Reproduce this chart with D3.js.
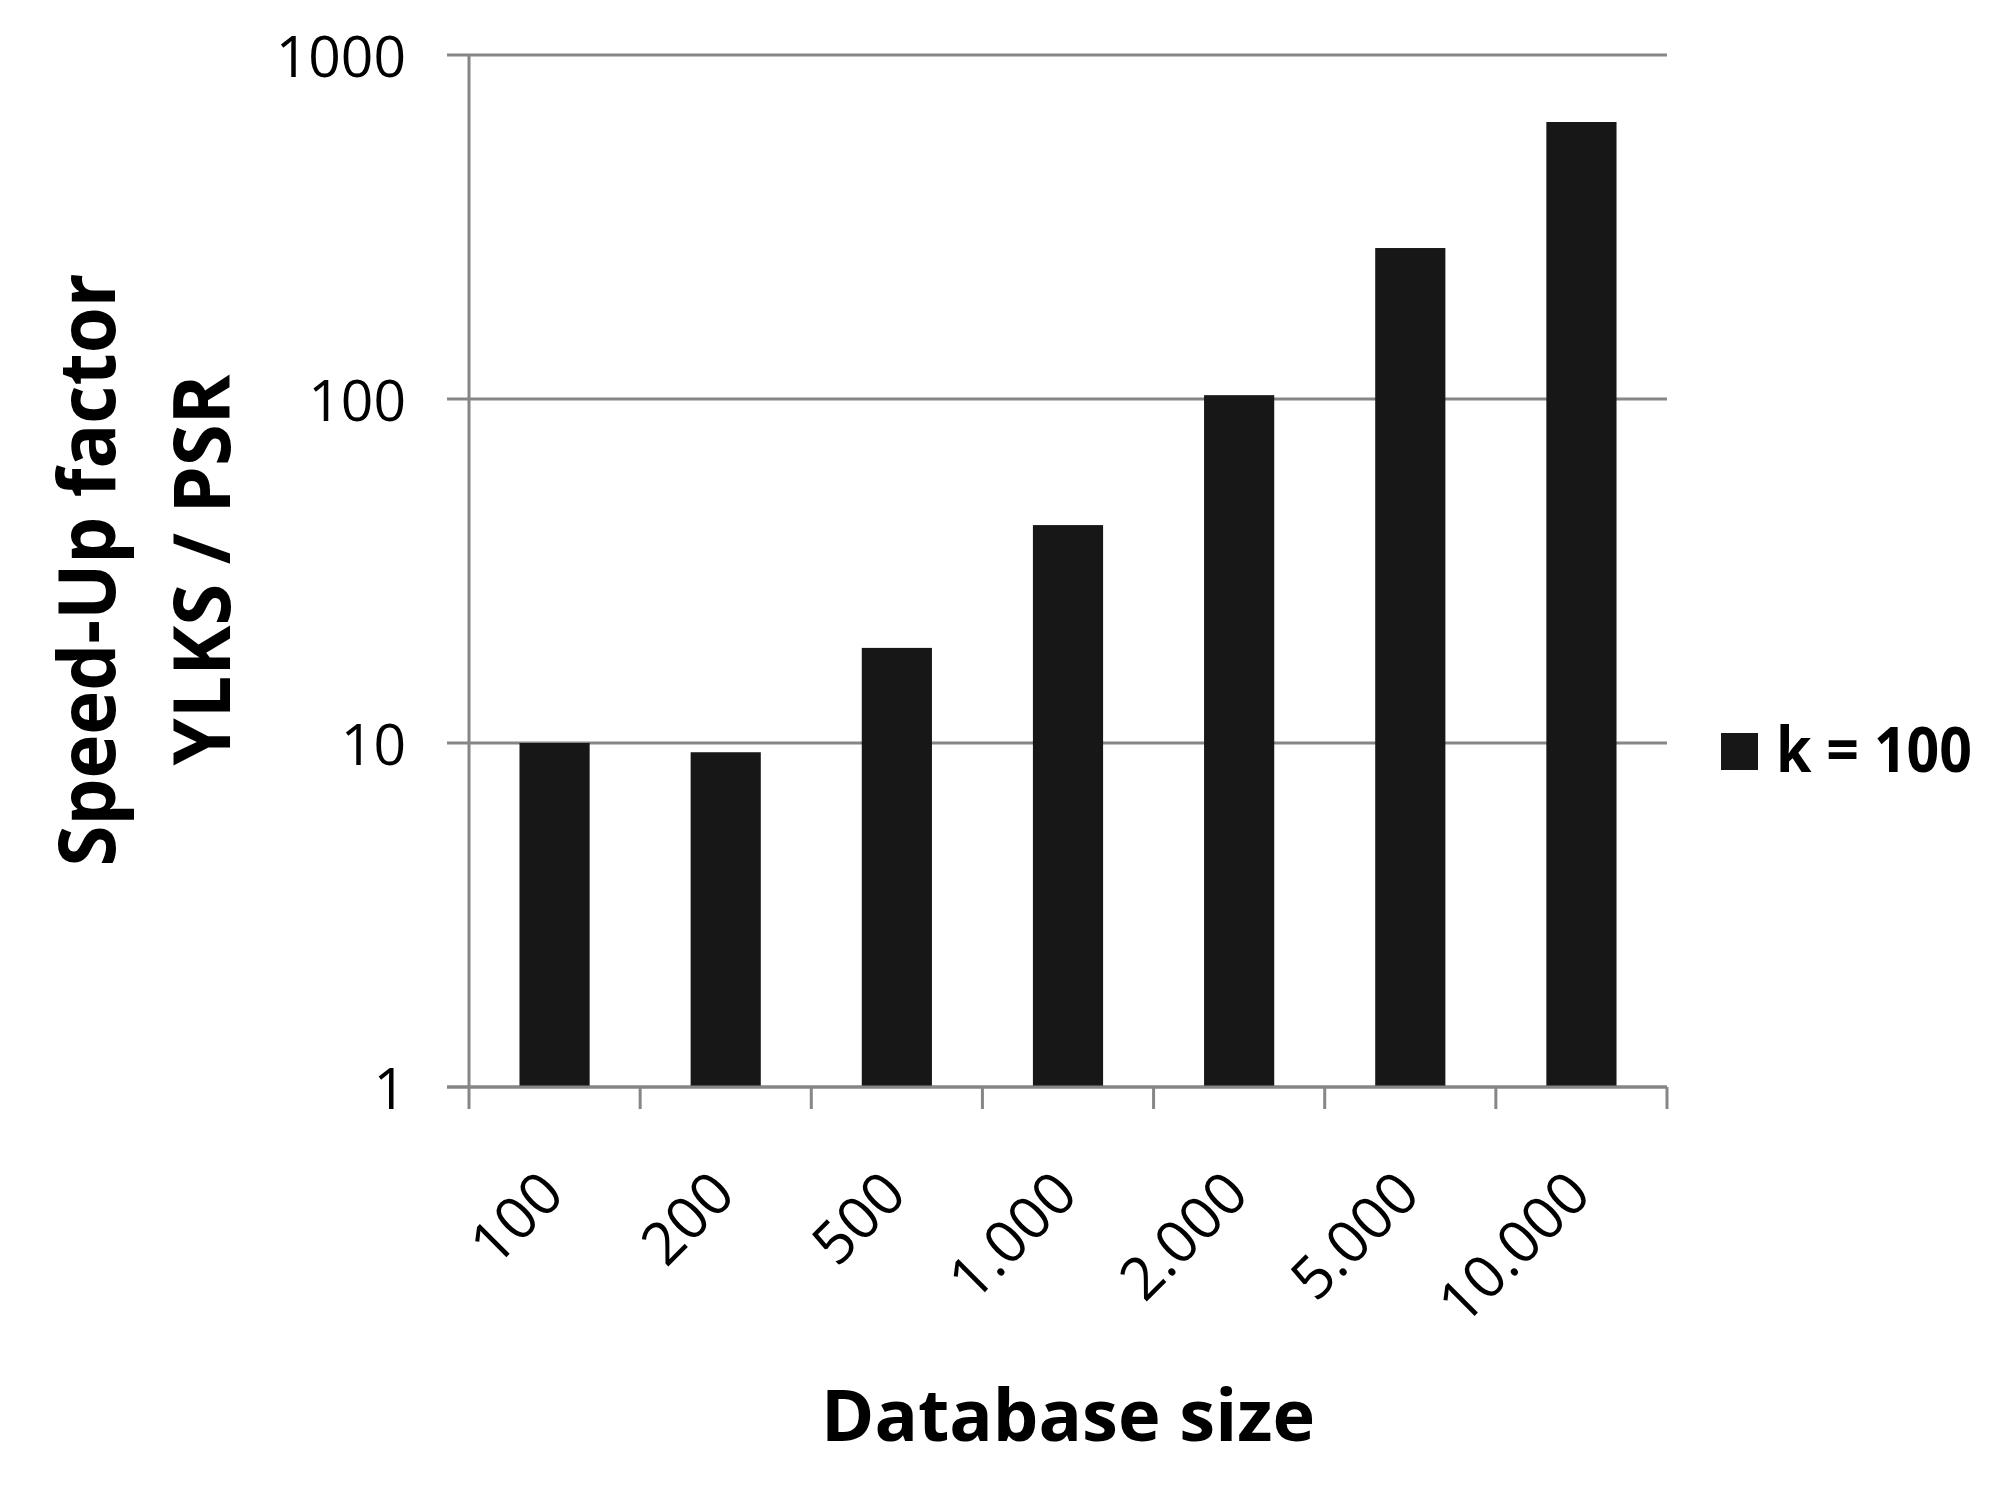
<!DOCTYPE html>
<html>
<head>
<meta charset="utf-8">
<script src="https://cdn.jsdelivr.net/npm/d3@7"></script>
<style>
html, body { margin: 0; padding: 0; background: #fff; }
svg { display: block; }
</style>
</head>
<body>
<script>
const categories = ["100", "200", "500", "1.000", "2.000", "5.000", "10.000"];
const speedUp = [10.0, 9.4, 18.9, 43.0, 102.6, 274.7, 638.6];
const yTicks = [1, 10, 100, 1000];
const yTickLabels = ["1", "10", "100", "1000"];
const seriesName = "k = 100";
const xTitle = "Database size";
const yTitleLines = ["Speed-Up factor", "YLKS / PSR"];

(function () {
const W = 2000, H = 1502;
const pLeft = 469, pRight = 1667, pTop = 55, pBottom = 1087;
const gridColor = "#868686";
const barColor = "#171717";
const font = "'Open Sans', 'Noto Sans', 'Liberation Sans', sans-serif";

const svg = d3.select("body").append("svg")
  .attr("width", W).attr("height", H)
  .style("font-family", font);

const x = d3.scaleBand().domain(categories).range([pLeft, pRight])
  .paddingInner(0.59).paddingOuter(0.295);
const y = d3.scaleLog().domain([1, 1000]).range([pBottom, pTop]);

// gridlines (with left tick extension)
svg.append("g").selectAll("line").data(yTicks).join("line")
  .attr("x1", pLeft - 22).attr("x2", pRight)
  .attr("y1", d => y(d)).attr("y2", d => y(d))
  .attr("stroke", gridColor).attr("stroke-width", 3);

// y tick labels
svg.append("g").selectAll("text").data(yTicks).join("text")
  .attr("x", 406).attr("y", d => y(d))
  .attr("text-anchor", "end").attr("dominant-baseline", "central")
  .attr("font-size", 57).attr("fill", "#000")
  .text((d, i) => yTickLabels[i]);

// bars
svg.append("g").selectAll("rect").data(speedUp).join("rect")
  .attr("x", (d, i) => x(categories[i]))
  .attr("width", x.bandwidth())
  .attr("y", d => y(d))
  .attr("height", d => y(1) - y(d))
  .attr("fill", barColor);

// y axis line
svg.append("line").attr("x1", pLeft).attr("x2", pLeft)
  .attr("y1", pTop).attr("y2", pBottom)
  .attr("stroke", gridColor).attr("stroke-width", 3);

// x axis line
svg.append("line").attr("x1", pLeft - 22).attr("x2", pRight)
  .attr("y1", pBottom).attr("y2", pBottom)
  .attr("stroke", gridColor).attr("stroke-width", 3);

// x tick marks at category boundaries
const step = x.step();
const boundaries = d3.range(categories.length + 1).map(i => pLeft + i * step);
svg.append("g").selectAll("line").data(boundaries).join("line")
  .attr("x1", d => d).attr("x2", d => d)
  .attr("y1", pBottom).attr("y2", pBottom + 22)
  .attr("stroke", gridColor).attr("stroke-width", 3);

// x tick labels, rotated
svg.append("g").selectAll("text").data(categories).join("text")
  .attr("transform", d => `translate(${x(d) + x.bandwidth() / 2 + 12},${1197}) rotate(-45)`)
  .attr("text-anchor", "end")
  .attr("font-size", 59).attr("fill", "#000")
  .text(d => d);

// x title
svg.append("text")
  .attr("x", (pLeft + pRight) / 2).attr("y", 1441)
  .attr("text-anchor", "middle")
  .attr("font-size", 72).attr("font-weight", "bold").attr("fill", "#000")
  .attr("textLength", 494).attr("lengthAdjust", "spacingAndGlyphs")
  .text(xTitle);

// y title (two lines)
const yt = [
  { text: yTitleLines[0], bx: 115, cy: 570, len: 593 },
  { text: yTitleLines[1], bx: 230, cy: 570, len: 391 }
];
svg.append("g").selectAll("text").data(yt).join("text")
  .attr("transform", d => `translate(${d.bx},${d.cy}) rotate(-90)`)
  .attr("text-anchor", "middle")
  .attr("font-size", 78).attr("font-weight", "bold").attr("fill", "#000")
  .attr("textLength", d => d.len).attr("lengthAdjust", "spacingAndGlyphs")
  .text(d => d.text);

// legend
const legend = svg.append("g");
legend.append("rect").attr("x", 1721).attr("y", 733)
  .attr("width", 37).attr("height", 37).attr("fill", barColor);
legend.append("text").attr("x", 1776).attr("y", 772)
  .attr("font-size", 62).attr("font-weight", "bold").attr("fill", "#000")
  .attr("textLength", 196).attr("lengthAdjust", "spacingAndGlyphs")
  .text(seriesName);
})();
</script>
</body>
</html>
